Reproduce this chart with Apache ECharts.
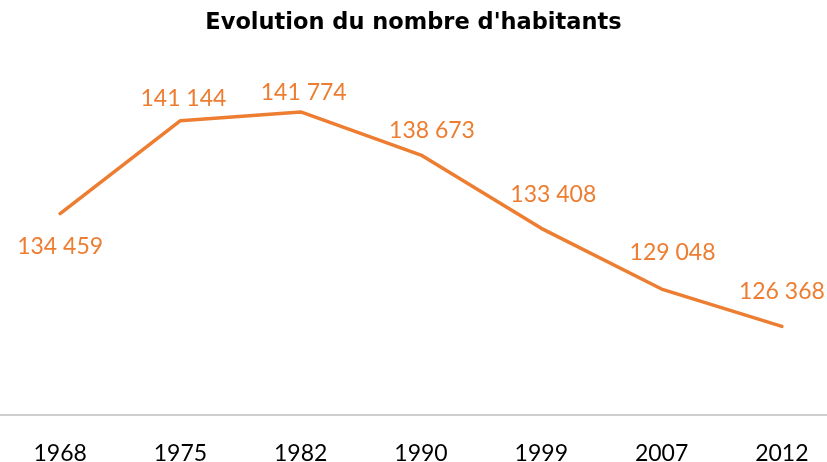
<!DOCTYPE html>
<html>
<head>
<meta charset="utf-8">
<script src="https://cdn.jsdelivr.net/npm/echarts@6/dist/echarts.min.js"></script>
<style>
  html, body { margin: 0; padding: 0; background: #fff; }
  #chart { width: 827px; height: 462px; }
</style>
</head>
<body>
<div id="chart"></div>
<script>
var years = ['1968', '1975', '1982', '1990', '1999', '2007', '2012'];
var habitants = [134459, 141144, 141774, 138673, 133408, 129048, 126368];

// where each value label sits relative to its point (Excel-like placement)
var labelPlace = [
    { position: 'bottom', offset: [0, 16] },
    { position: 'top', offset: [3, -5] },
    { position: 'top', offset: [3, -2] },
    { position: 'top', offset: [11, -7] },
    { position: 'top', offset: [12, -17] },
    { position: 'top', offset: [11, -19] },
    { position: 'top', offset: [0, -18] }
];

var orange = '#ED7D31';
var fontFam = 'Lato, "Open Sans", sans-serif';

var data = [];
for (var i = 0; i < habitants.length; i++) {
    data.push({
        value: habitants[i],
        label: labelPlace[i]
    });
}

var myChart = echarts.init(document.getElementById('chart'));
myChart.setOption({
    animation: false,
    title: {
        text: "Evolution du nombre d'habitants",
        left: 'center',
        top: 7,
        textStyle: {
            color: '#000',
            fontSize: 22.5,
            fontWeight: 'bold',
            fontFamily: '"DejaVu Sans", sans-serif'
        }
    },
    grid: {
        left: 0,
        right: -15,
        top: 67,
        bottom: 47,
        outerBoundsMode: 'none'
    },
    xAxis: {
        type: 'category',
        data: years,
        boundaryGap: true,
        axisLine: { lineStyle: { color: '#bfbfbf', width: 1.5 } },
        axisTick: { show: false },
        axisLabel: {
            color: '#000',
            fontSize: 23,
            fontFamily: fontFam,
            margin: 27
        }
    },
    yAxis: {
        type: 'value',
        min: 120000,
        max: 145000,
        interval: 5000,
        show: false,
        splitLine: { show: false }
    },
    series: [{
        type: 'line',
        data: data,
        symbol: 'circle',
        symbolSize: 1,
        showSymbol: true,
        lineStyle: { color: orange, width: 3.5, cap: 'round', join: 'round' },
        itemStyle: { color: orange },
        label: {
            show: true,
            color: orange,
            fontSize: 23,
            fontFamily: fontFam,
            formatter: function (p) {
                return String(p.value).replace(/\B(?=(\d{3})+(?!\d))/g, ' ');
            }
        }
    }]
});
</script>
</body>
</html>
